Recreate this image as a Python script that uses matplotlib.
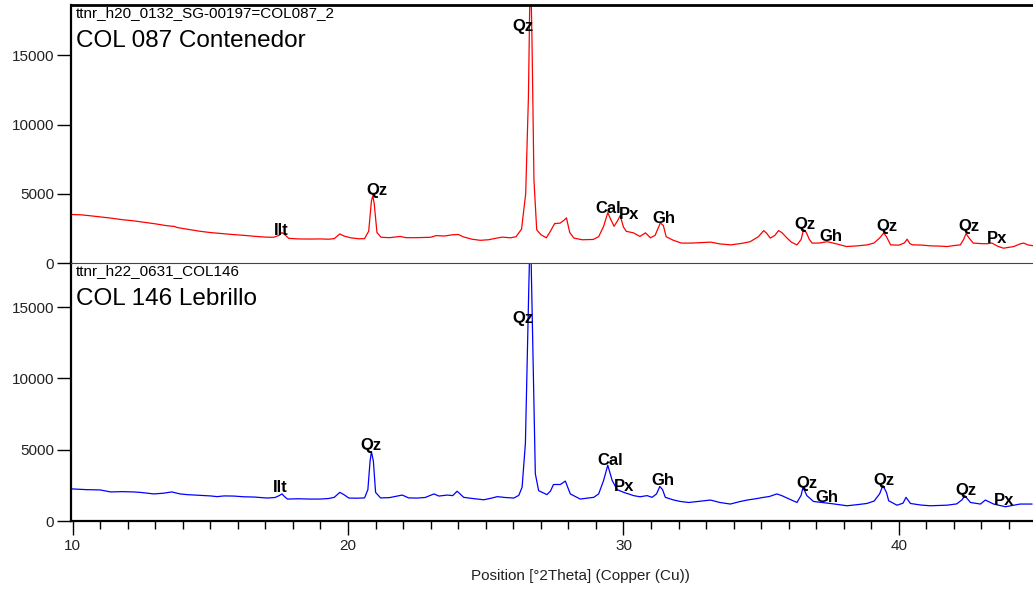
import numpy as np
from matplotlib import pyplot as plt

plt.rcParams['font.family'] = ['Liberation Sans', 'DejaVu Sans']

# COL 087 Contenedor (red, upper panel)
tt_087 = [10.0, 10.3, 10.6, 11.0, 11.4, 11.8, 12.2, 12.6, 13.0, 13.4, 13.7, 13.8, 14.2, 14.6,
          15.0, 15.4, 15.8, 16.2, 16.6, 17.0, 17.3, 17.5, 17.6, 17.7, 17.85, 18.2, 18.6, 19.0,
          19.3, 19.5, 19.7, 19.85, 20.1, 20.4, 20.6, 20.75, 20.85, 20.9, 20.95, 21.05, 21.2,
          21.5, 21.9, 22.1, 22.5, 23.0, 23.2, 23.5, 23.8, 24.0, 24.2, 24.5, 24.8, 25.1, 25.4,
          25.6, 25.9, 26.1, 26.3, 26.45, 26.55, 26.62, 26.68, 26.75, 26.85, 27.0, 27.2, 27.35,
          27.5, 27.7, 27.85, 27.93, 28.05, 28.2, 28.5, 28.9, 29.1, 29.28, 29.43, 29.55, 29.66,
          29.8, 29.88, 30.0, 30.1, 30.36, 30.6, 30.8, 30.98, 31.15, 31.34, 31.45, 31.55, 31.8,
          32.1, 32.5, 33.16, 33.5, 33.9, 34.3, 34.6, 34.9, 35.09, 35.2, 35.33, 35.5, 35.63,
          35.75, 35.94, 36.1, 36.3, 36.45, 36.54, 36.64, 36.75, 36.85, 37.1, 37.4, 37.7, 38.1,
          38.5, 38.85, 39.1, 39.3, 39.45, 39.55, 39.7, 40.0, 40.2, 40.3, 40.4, 40.5, 40.8,
          41.14, 41.5, 41.75, 42.0, 42.23, 42.35, 42.44, 42.55, 42.7, 43.0, 43.2, 43.38, 43.6,
          43.8, 44.17, 44.4, 44.53, 44.7, 44.9]
cnt_087 = [3500, 3480, 3420, 3330, 3240, 3130, 3050, 2940, 2830, 2700, 2640, 2560, 2430, 2300,
           2200, 2130, 2060, 2000, 1930, 1870, 1860, 2000, 2200, 2050, 1780, 1740, 1730, 1740,
           1720, 1760, 2100, 1950, 1820, 1750, 1760, 2300, 4500, 4850, 4300, 2200, 1860,
           1830, 1920, 1830, 1830, 1860, 1980, 1950, 2040, 2060, 1880, 1720, 1640, 1680, 1800,
           1870, 1820, 1900, 2450, 5000, 12000, 22000, 16000, 6000, 2400, 2050, 1820, 2300,
           2850, 2880, 3100, 3260, 2200, 1800, 1680, 1700, 1900, 2650, 3630, 3100, 2650,
           3100, 3430, 2600, 2290, 2180, 1920, 2180, 1820, 2000, 2900, 2700, 1900, 1650,
           1440, 1440, 1510, 1380, 1310, 1420, 1540, 1900, 2340, 2150, 1800, 2000, 2340,
           2200, 1800, 1500, 1310, 1700, 2410, 2200, 1700, 1440, 1440, 1540, 1400, 1190,
           1240, 1310, 1450, 1800, 2170, 1900, 1310, 1290, 1450, 1720, 1400, 1310, 1300,
           1240, 1220, 1190, 1260, 1310, 1700, 2120, 1800, 1440, 1400, 1390, 1440, 1200,
           1070, 1190, 1380, 1440, 1300, 1240]

# COL 146 Lebrillo (blue, lower panel)
tt_146 = [10.0, 10.2, 10.5, 11.0, 11.38, 11.8, 12.2, 12.5, 12.95, 13.3, 13.6, 13.9, 14.16, 14.6,
          15.0, 15.25, 15.5, 15.85, 16.2, 16.6, 17.07, 17.35, 17.5, 17.6, 17.7, 17.8, 18.2,
          18.6, 19.0, 19.3, 19.5, 19.7, 19.85, 20.03, 20.3, 20.6, 20.72, 20.8, 20.85, 20.92,
          21.0, 21.18, 21.5, 21.97, 22.2, 22.51, 22.8, 23.12, 23.3, 23.6, 23.8, 23.96, 24.2,
          24.6, 24.93, 25.2, 25.42, 25.7, 26.02, 26.2, 26.32, 26.44, 26.56, 26.62, 26.72, 26.8,
          26.92, 27.22, 27.35, 27.46, 27.71, 27.89, 28.07, 28.43, 28.92, 29.1, 29.28, 29.43,
          29.59, 29.77, 30.01, 30.37, 30.6, 30.86, 31.04, 31.2, 31.32, 31.42, 31.52, 31.83,
          32.07, 32.37, 33.16, 33.5, 33.88, 34.2, 34.49, 34.8, 35.09, 35.3, 35.57, 35.75,
          35.94, 36.3, 36.45, 36.52, 36.66, 36.9, 37.51, 38.12, 38.5, 38.84, 39.1, 39.3,
          39.42, 39.55, 39.63, 39.93, 40.15, 40.26, 40.42, 40.8, 41.14, 41.75, 42.1, 42.3,
          42.39, 42.6, 42.96, 43.14, 43.44, 43.87, 44.4, 44.83]
cnt_146 = [2250, 2230, 2200, 2180, 2040, 2060, 2040, 2000, 1900, 1950, 2040, 1900, 1850, 1800,
           1760, 1710, 1760, 1750, 1700, 1680, 1610, 1650, 1780, 1900, 1700, 1540, 1560,
           1540, 1540, 1580, 1660, 2010, 1850, 1610, 1600, 1620, 2200, 4200, 4860, 4200,
           2010, 1620, 1640, 1820, 1620, 1610, 1650, 1900, 1750, 1820, 1780, 2090, 1660,
           1560, 1490, 1600, 1710, 1650, 1610, 1800, 2370, 5450, 16100, 21000, 11380, 3320,
           2130, 1850, 2100, 2560, 2560, 2800, 1900, 1540, 1660, 1900, 2850, 3910,
           2850, 2200, 2010, 1780, 1700, 1780, 1660, 1900, 2420, 2200, 1660, 1470,
           1370, 1300, 1470, 1300, 1190, 1350, 1470, 1560, 1660, 1720, 1900, 1780,
           1610, 1300, 1800, 2370, 1780, 1370, 1230, 1070, 1150, 1230, 1400, 1900,
           2490, 2000, 1420, 1110, 1250, 1660, 1230, 1120, 1070, 1110, 1200, 1500,
           1780, 1300, 1190, 1470, 1190, 1000, 1190, 1190]

# phase labels: (text, 2theta, height)
labels_087 = [("Ilt", 17.59, 2330), ("Qz", 21.06, 5220), ("Qz", 26.34, 17080),
              ("Cal", 29.44, 3940), ("Px", 30.21, 3470), ("Gh", 31.46, 3210),
              ("Qz", 36.6, 2770), ("Gh", 37.53, 1920), ("Qz", 39.57, 2630),
              ("Qz", 42.55, 2630), ("Px", 43.58, 1800)]
labels_146 = [("Ilt", 17.53, 2370), ("Qz", 20.84, 5330), ("Qz", 26.34, 14220),
              ("Cal", 29.51, 4240), ("Px", 30.02, 2400), ("Gh", 31.42, 2840),
              ("Qz", 36.66, 2610), ("Gh", 37.4, 1660), ("Qz", 39.45, 2840),
              ("Qz", 42.45, 2130), ("Px", 43.82, 1420)]

fig = plt.figure(figsize=(10.33, 5.92), dpi=100)
ax1 = fig.add_axes([0.0687, 0.5557, 0.9313, 0.4359])
ax2 = fig.add_axes([0.0687, 0.1199, 0.9313, 0.4358])

ax1.plot(tt_087, cnt_087, color='#ff0000', lw=0.9)
ax2.plot(tt_146, cnt_146, color='#0000ff', lw=0.9)

for ax, labs, file_name, name, top in [
        (ax1, labels_087, "ttnr_h20_0132_SG-00197=COL087_2", "COL 087 Contenedor", 18630),
        (ax2, labels_146, "ttnr_h22_0631_COL146", "COL 146 Lebrillo", 18090)]:
    ax.set_xlim(9.94, 44.87)
    ax.set_ylim(0, top)
    ax.set_yticks([0, 5000, 10000, 15000])
    ax.tick_params(axis='y', direction='out', length=10, width=1, labelsize=11,
                   labelcolor='#222222', pad=2)
    ax.spines['right'].set_visible(False)
    ax.spines['left'].set_linewidth(1.6)
    for t, x, y in labs:
        ax.text(x, y, t, ha='center', va='center', fontsize=12, fontweight='bold')
    ax.text(0.005, 0.995, file_name, transform=ax.transAxes, ha='left', va='top', fontsize=11)
    ax.text(0.005, 0.86, name, transform=ax.transAxes, ha='left', va='center', fontsize=17.5)

ax1.spines['top'].set_linewidth(2)
ax1.spines['bottom'].set_visible(False)
ax1.tick_params(axis='x', bottom=False, labelbottom=False)

ax2.spines['top'].set_linewidth(0.8)
ax2.spines['top'].set_color('#444444')
ax2.spines['bottom'].set_linewidth(1.6)
ax2.set_xticks([10, 20, 30, 40])
ax2.set_xticks(np.arange(10, 45, 1), minor=True)
ax2.tick_params(axis='x', which='major', direction='out', length=10, width=1,
                labelsize=11, labelcolor='#222222', pad=3)
ax2.tick_params(axis='x', which='minor', direction='out', length=6, width=1)
ax2.set_xlabel("Position [°2Theta] (Copper (Cu))", fontsize=11, color='#222222')
ax2.xaxis.set_label_coords((580 - 71) / (1033 - 71), -0.185)

plt.savefig("out.png", dpi=100)
